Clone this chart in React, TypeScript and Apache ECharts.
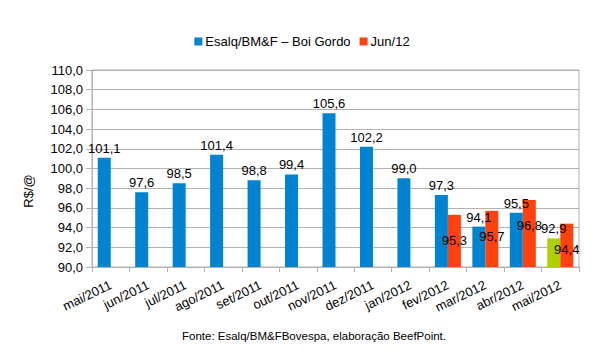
import React, { useEffect, useRef } from "react";
import * as echarts from "echarts";

const categories = [
  "mai/2011", "jun/2011", "jul/2011", "ago/2011", "set/2011", "out/2011", "nov/2011",
  "dez/2011", "jan/2012", "fev/2012", "mar/2012", "abr/2012", "mai/2012",
];
const esalqValues = [101.1, 97.6, 98.5, 101.4, 98.8, 99.4, 105.6, 102.2, 99.0, 97.3, 94.1, 95.5, 92.9];
const jun12Values: (number | null)[] = [null, null, null, null, null, null, null, null, null, 95.3, 95.7, 96.8, 94.4];
const seriesNames = ["Esalq/BM&F – Boi Gordo", "Jun/12"];
const highlightIndex = 12;
const yTicks = { min: 90, max: 110, interval: 2 };
const sourceText = "Fonte: Esalq/BM&FBovespa, elaboração BeefPoint.";
const yAxisTitle = "R$/@";

const BLUE = "#0084d1";
const RED = "#ff420e";
const GREEN = "#aecf00";
const FONT = "'Liberation Sans', Arial, sans-serif";

const fmt = (v: number) => v.toFixed(1).replace(".", ",");

export default function App() {
  const ref = useRef<HTMLDivElement>(null);
  useEffect(() => {
    if (!ref.current) return;
    const chart = echarts.init(ref.current, undefined, { renderer: "svg" });
    chart.setOption({
      animation: false,
      textStyle: { fontFamily: FONT },
      legend: {
        top: 30,
        left: "center",
        itemWidth: 8,
        itemHeight: 8,
        itemGap: 9,
        icon: "rect",
        textStyle: { fontSize: 13, color: "#000", fontFamily: FONT, padding: [0, 0, 0, -2] },
        data: seriesNames,
      },
      grid: {
        left: 92,
        right: 25,
        top: 70,
        bottom: 96,
        show: true,
        borderColor: "#b3b3b3",
        borderWidth: 1,
      },
      xAxis: {
        type: "category",
        data: categories,
        axisLine: { lineStyle: { color: "#b3b3b3" } },
        axisTick: { show: true, length: 5, lineStyle: { color: "#b3b3b3" } },
        axisLabel: {
          rotate: 26,
          interval: 0,
          margin: 17,
          fontSize: 13,
          color: "#000",
          fontFamily: FONT,
        },
      },
      yAxis: {
        type: "value",
        min: yTicks.min,
        max: yTicks.max,
        interval: yTicks.interval,
        axisLine: { show: true, lineStyle: { color: "#b3b3b3" } },
        axisTick: { show: true, length: 6, lineStyle: { color: "#b3b3b3" } },
        splitLine: { lineStyle: { color: "#b3b3b3" } },
        axisLabel: {
          fontSize: 13,
          color: "#000",
          margin: 9,
          fontFamily: FONT,
          formatter: (v: number) => fmt(v),
        },
      },
      series: [
        {
          name: seriesNames[0],
          type: "bar",
          barWidth: 13,
          barGap: "0%",
          itemStyle: { color: BLUE },
          data: esalqValues.map((v, i) =>
            i === highlightIndex ? { value: v, itemStyle: { color: GREEN } } : v
          ),
          label: {
            show: true,
            position: "top",
            distance: 3,
            fontSize: 13,
            color: "#000",
            fontFamily: FONT,
            formatter: (p: any) => fmt(p.value),
          },
        },
        {
          name: seriesNames[1],
          type: "bar",
          barWidth: 13,
          barGap: "0%",
          itemStyle: { color: RED },
          data: jun12Values,
          label: {
            show: true,
            position: "insideTop",
            distance: 19,
            fontSize: 13,
            color: "#000",
            fontFamily: FONT,
            formatter: (p: any) => (p.value == null ? "" : fmt(p.value)),
          },
        },
      ],
      graphic: [
        {
          type: "text",
          x: 28,
          y: 191,
          rotation: Math.PI / 2,
          style: {
            text: yAxisTitle,
            fontSize: 13,
            fill: "#000",
            fontFamily: FONT,
            align: "center",
            verticalAlign: "middle",
          },
        },
        {
          type: "text",
          x: 314,
          y: 336,
          style: {
            text: sourceText,
            fontSize: 11.5,
            fill: "#000",
            fontFamily: FONT,
            align: "center",
            verticalAlign: "middle",
          },
        },
      ],
    });
    return () => chart.dispose();
  }, []);
  return (
    <div
      ref={ref}
      style={{ position: "fixed", left: 0, top: 0, width: 604, height: 363, background: "#fff" }}
    />
  );
}
